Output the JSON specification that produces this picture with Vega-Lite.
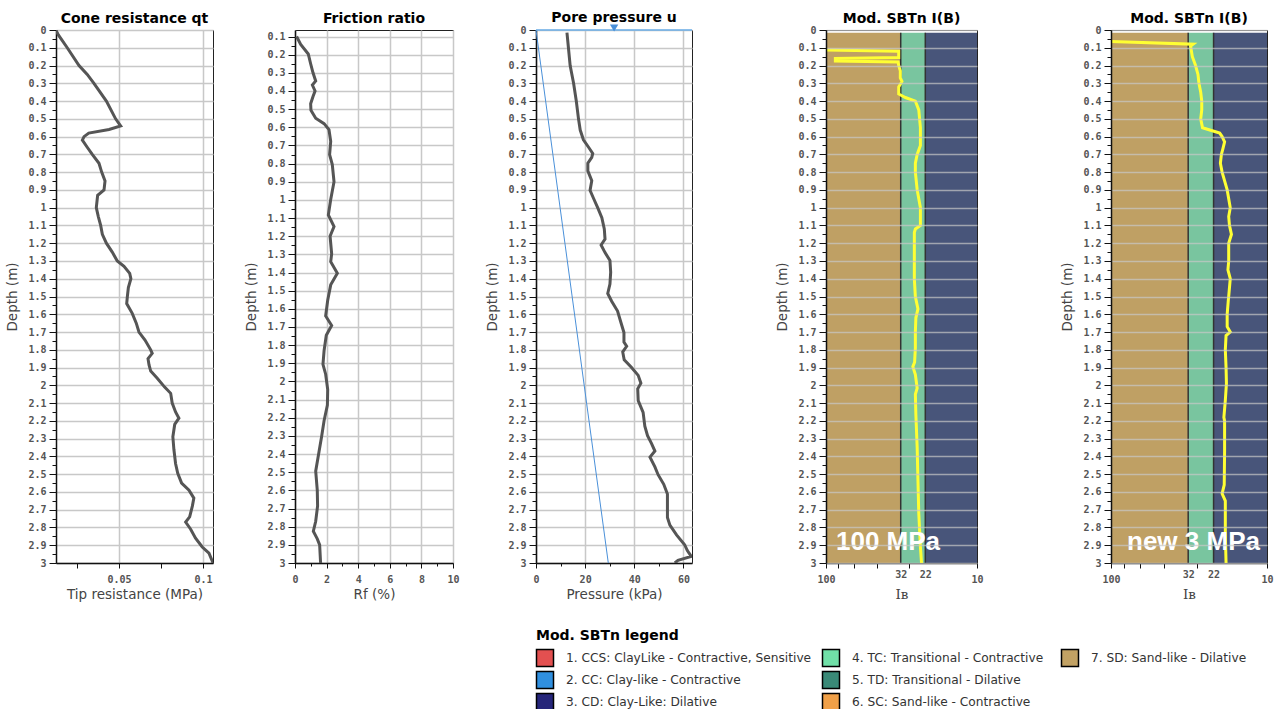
{
  "$schema": "https://vega.github.io/schema/vega-lite/v6.json",
  "background": "white",
  "padding": {"left": 5, "top": 10, "right": 5, "bottom": 5},
  "datasets": {
    "qt": [
      {"depth": 0, "qt": 0.0124}, {"depth": 0.028, "qt": 0.0139}, {"depth": 0.1, "qt": 0.0192}, {"depth": 0.2, "qt": 0.0262},
      {"depth": 0.25, "qt": 0.0311}, {"depth": 0.3, "qt": 0.0351}, {"depth": 0.4, "qt": 0.0425}, {"depth": 0.5, "qt": 0.048},
      {"depth": 0.54, "qt": 0.051}, {"depth": 0.56, "qt": 0.0441}, {"depth": 0.58, "qt": 0.032}, {"depth": 0.6, "qt": 0.0292},
      {"depth": 0.62, "qt": 0.0282}, {"depth": 0.66, "qt": 0.0311}, {"depth": 0.7, "qt": 0.0341}, {"depth": 0.75, "qt": 0.0381},
      {"depth": 0.8, "qt": 0.0397}, {"depth": 0.85, "qt": 0.0417}, {"depth": 0.9, "qt": 0.0411}, {"depth": 0.93, "qt": 0.0373},
      {"depth": 1.0, "qt": 0.0365}, {"depth": 1.05, "qt": 0.0377}, {"depth": 1.1, "qt": 0.0391}, {"depth": 1.15, "qt": 0.0401},
      {"depth": 1.2, "qt": 0.0425}, {"depth": 1.25, "qt": 0.046}, {"depth": 1.3, "qt": 0.049}, {"depth": 1.33, "qt": 0.053},
      {"depth": 1.37, "qt": 0.0564}, {"depth": 1.4, "qt": 0.0571}, {"depth": 1.45, "qt": 0.0556}, {"depth": 1.5, "qt": 0.055},
      {"depth": 1.54, "qt": 0.0546}, {"depth": 1.595, "qt": 0.0579}, {"depth": 1.65, "qt": 0.0603}, {"depth": 1.7, "qt": 0.0619},
      {"depth": 1.745, "qt": 0.0655}, {"depth": 1.8, "qt": 0.0689}, {"depth": 1.82, "qt": 0.0698}, {"depth": 1.85, "qt": 0.0673},
      {"depth": 1.885, "qt": 0.0679}, {"depth": 1.92, "qt": 0.0689}, {"depth": 1.96, "qt": 0.0728}, {"depth": 2.01, "qt": 0.0772},
      {"depth": 2.045, "qt": 0.0808}, {"depth": 2.1, "qt": 0.0817}, {"depth": 2.15, "qt": 0.0837}, {"depth": 2.185, "qt": 0.0857},
      {"depth": 2.22, "qt": 0.0832}, {"depth": 2.29, "qt": 0.0821}, {"depth": 2.36, "qt": 0.0827}, {"depth": 2.44, "qt": 0.0837},
      {"depth": 2.495, "qt": 0.085}, {"depth": 2.55, "qt": 0.0873}, {"depth": 2.59, "qt": 0.0917}, {"depth": 2.635, "qt": 0.0946},
      {"depth": 2.68, "qt": 0.0937}, {"depth": 2.74, "qt": 0.0921}, {"depth": 2.77, "qt": 0.0897}, {"depth": 2.81, "qt": 0.0927},
      {"depth": 2.86, "qt": 0.0956}, {"depth": 2.91, "qt": 0.0996}, {"depth": 2.945, "qt": 0.1036}, {"depth": 2.99, "qt": 0.1056},
      {"depth": 3.0, "qt": 0.106}
    ],
    "rf": [
      {"depth": 0.1, "rf": 0.1}, {"depth": 0.143, "rf": 0.36}, {"depth": 0.196, "rf": 0.84}, {"depth": 0.25, "rf": 0.99},
      {"depth": 0.3, "rf": 1.14}, {"depth": 0.345, "rf": 1.31}, {"depth": 0.367, "rf": 1.1}, {"depth": 0.4, "rf": 1.27},
      {"depth": 0.43, "rf": 1.14}, {"depth": 0.47, "rf": 0.99}, {"depth": 0.506, "rf": 1.01}, {"depth": 0.55, "rf": 1.31},
      {"depth": 0.58, "rf": 1.84}, {"depth": 0.613, "rf": 2.15}, {"depth": 0.677, "rf": 2.26}, {"depth": 0.75, "rf": 2.19},
      {"depth": 0.805, "rf": 2.36}, {"depth": 0.9, "rf": 2.47}, {"depth": 0.998, "rf": 2.26}, {"depth": 1.083, "rf": 2.11},
      {"depth": 1.147, "rf": 2.47}, {"depth": 1.2, "rf": 2.22}, {"depth": 1.297, "rf": 2.32}, {"depth": 1.34, "rf": 2.26},
      {"depth": 1.404, "rf": 2.68}, {"depth": 1.468, "rf": 2.26}, {"depth": 1.553, "rf": 2.07}, {"depth": 1.639, "rf": 1.94},
      {"depth": 1.692, "rf": 2.32}, {"depth": 1.745, "rf": 1.98}, {"depth": 1.831, "rf": 1.84}, {"depth": 1.906, "rf": 1.77},
      {"depth": 1.96, "rf": 1.94}, {"depth": 2.045, "rf": 2.07}, {"depth": 2.13, "rf": 2.05}, {"depth": 2.216, "rf": 1.84},
      {"depth": 2.3, "rf": 1.69}, {"depth": 2.387, "rf": 1.52}, {"depth": 2.494, "rf": 1.31}, {"depth": 2.6, "rf": 1.41},
      {"depth": 2.686, "rf": 1.43}, {"depth": 2.77, "rf": 1.31}, {"depth": 2.825, "rf": 1.16}, {"depth": 2.867, "rf": 1.41},
      {"depth": 2.9, "rf": 1.56}, {"depth": 3.0, "rf": 1.62}
    ],
    "u": [
      {"depth": 0.015, "p": 12.6}, {"depth": 0.1, "p": 13.2}, {"depth": 0.2, "p": 13.9}, {"depth": 0.3, "p": 15.3},
      {"depth": 0.4, "p": 16.4}, {"depth": 0.5, "p": 17.3}, {"depth": 0.563, "p": 18.0}, {"depth": 0.618, "p": 19.3},
      {"depth": 0.66, "p": 21.4}, {"depth": 0.695, "p": 23.1}, {"depth": 0.717, "p": 22.7}, {"depth": 0.75, "p": 21.1},
      {"depth": 0.793, "p": 21.1}, {"depth": 0.848, "p": 22.7}, {"depth": 0.903, "p": 22.0}, {"depth": 0.947, "p": 23.4},
      {"depth": 1.0, "p": 25.1}, {"depth": 1.056, "p": 26.8}, {"depth": 1.12, "p": 27.8}, {"depth": 1.177, "p": 28.1},
      {"depth": 1.21, "p": 26.5}, {"depth": 1.253, "p": 28.1}, {"depth": 1.297, "p": 30.1}, {"depth": 1.363, "p": 30.4},
      {"depth": 1.43, "p": 30.1}, {"depth": 1.483, "p": 29.2}, {"depth": 1.527, "p": 30.8}, {"depth": 1.582, "p": 33.2},
      {"depth": 1.648, "p": 34.6}, {"depth": 1.703, "p": 35.8}, {"depth": 1.757, "p": 35.8}, {"depth": 1.78, "p": 36.9},
      {"depth": 1.812, "p": 35.3}, {"depth": 1.856, "p": 35.9}, {"depth": 1.9, "p": 38.9}, {"depth": 1.944, "p": 41.6},
      {"depth": 1.988, "p": 42.7}, {"depth": 2.02, "p": 41.4}, {"depth": 2.086, "p": 41.6}, {"depth": 2.152, "p": 43.6},
      {"depth": 2.23, "p": 44.3}, {"depth": 2.283, "p": 45.4}, {"depth": 2.327, "p": 47.0}, {"depth": 2.37, "p": 48.4},
      {"depth": 2.404, "p": 46.4}, {"depth": 2.459, "p": 48.4}, {"depth": 2.503, "p": 49.7}, {"depth": 2.557, "p": 52.0},
      {"depth": 2.612, "p": 53.5}, {"depth": 2.7, "p": 53.5}, {"depth": 2.744, "p": 53.5}, {"depth": 2.787, "p": 54.5},
      {"depth": 2.842, "p": 57.2}, {"depth": 2.897, "p": 60.5}, {"depth": 2.93, "p": 61.6}, {"depth": 2.963, "p": 63.2},
      {"depth": 2.985, "p": 57.8}, {"depth": 3.0, "p": 56.5}
    ],
    "u0": [{"depth": 0, "p": 0}, {"depth": 3, "p": 29.43}],
    "wt": [{"depth": 0, "p": 0}],
    "gwt": [{"depth": 0, "p": 31.8}],
    "ib100": [
      {"depth": 0.113, "ib": 100}, {"depth": 0.12, "ib": 33.0}, {"depth": 0.155, "ib": 33.0}, {"depth": 0.16, "ib": 86.7},
      {"depth": 0.175, "ib": 86.7}, {"depth": 0.18, "ib": 33.3}, {"depth": 0.2, "ib": 33.0}, {"depth": 0.23, "ib": 32.2},
      {"depth": 0.27, "ib": 32.2}, {"depth": 0.29, "ib": 31.4}, {"depth": 0.32, "ib": 33.0}, {"depth": 0.36, "ib": 33.0},
      {"depth": 0.38, "ib": 29.8}, {"depth": 0.4, "ib": 25.6}, {"depth": 0.45, "ib": 24.3}, {"depth": 0.55, "ib": 23.7},
      {"depth": 0.65, "ib": 23.7}, {"depth": 0.7, "ib": 24.9}, {"depth": 0.75, "ib": 25.6}, {"depth": 0.8, "ib": 25.6},
      {"depth": 0.9, "ib": 24.9}, {"depth": 1.0, "ib": 23.7}, {"depth": 1.1, "ib": 23.7}, {"depth": 1.12, "ib": 25.6},
      {"depth": 1.14, "ib": 26.0}, {"depth": 1.3, "ib": 26.0}, {"depth": 1.4, "ib": 26.0}, {"depth": 1.5, "ib": 25.6},
      {"depth": 1.57, "ib": 24.6}, {"depth": 1.62, "ib": 25.4}, {"depth": 1.7, "ib": 25.6}, {"depth": 1.79, "ib": 25.6},
      {"depth": 1.87, "ib": 25.9}, {"depth": 1.895, "ib": 26.6}, {"depth": 1.94, "ib": 25.6}, {"depth": 2.016, "ib": 24.9},
      {"depth": 2.05, "ib": 25.6}, {"depth": 2.166, "ib": 25.4}, {"depth": 2.35, "ib": 24.9}, {"depth": 2.54, "ib": 24.6},
      {"depth": 2.72, "ib": 24.3}, {"depth": 2.91, "ib": 23.7}, {"depth": 3.0, "ib": 23.3}
    ],
    "ib3": [
      {"depth": 0.065, "ib": 100}, {"depth": 0.08, "ib": 29.8}, {"depth": 0.09, "ib": 30.9}, {"depth": 0.15, "ib": 30.1},
      {"depth": 0.2, "ib": 28.7}, {"depth": 0.25, "ib": 27.7}, {"depth": 0.3, "ib": 27.3}, {"depth": 0.35, "ib": 26.6},
      {"depth": 0.4, "ib": 26.2}, {"depth": 0.45, "ib": 26.2}, {"depth": 0.5, "ib": 26.6}, {"depth": 0.55, "ib": 25.9},
      {"depth": 0.57, "ib": 21.9}, {"depth": 0.58, "ib": 20.1}, {"depth": 0.6, "ib": 19.4}, {"depth": 0.63, "ib": 18.7},
      {"depth": 0.67, "ib": 19.2}, {"depth": 0.7, "ib": 19.6}, {"depth": 0.75, "ib": 19.9}, {"depth": 0.8, "ib": 19.4},
      {"depth": 0.9, "ib": 18.0}, {"depth": 1.0, "ib": 17.2}, {"depth": 1.05, "ib": 17.6}, {"depth": 1.1, "ib": 17.4},
      {"depth": 1.15, "ib": 16.9}, {"depth": 1.2, "ib": 17.6}, {"depth": 1.3, "ib": 17.6}, {"depth": 1.35, "ib": 17.8},
      {"depth": 1.4, "ib": 17.2}, {"depth": 1.5, "ib": 17.6}, {"depth": 1.52, "ib": 17.7}, {"depth": 1.6, "ib": 18.0},
      {"depth": 1.67, "ib": 18.0}, {"depth": 1.7, "ib": 17.2}, {"depth": 1.72, "ib": 18.3}, {"depth": 1.8, "ib": 18.5},
      {"depth": 1.9, "ib": 18.3}, {"depth": 1.99, "ib": 18.2}, {"depth": 2.085, "ib": 18.5}, {"depth": 2.18, "ib": 18.9},
      {"depth": 2.2, "ib": 18.7}, {"depth": 2.37, "ib": 18.7}, {"depth": 2.56, "ib": 18.8}, {"depth": 2.61, "ib": 19.4},
      {"depth": 2.65, "ib": 18.5}, {"depth": 2.84, "ib": 18.5}, {"depth": 3.0, "ib": 18.3}
    ],
    "zones": [
      {"zone": "7. SD", "ib": 100, "ib2": 32, "depth": 0.015, "depth2": 3},
      {"zone": "4. TC", "ib": 32, "ib2": 22, "depth": 0.015, "depth2": 3},
      {"zone": "3. CD", "ib": 22, "ib2": 10, "depth": 0.015, "depth2": 3}
    ],
    "legend": [
      {"code": 1, "label": "1. CCS: ClayLike - Contractive, Sensitive"},
      {"code": 2, "label": "2. CC: Clay-like - Contractive"},
      {"code": 3, "label": "3. CD: Clay-Like: Dilative"},
      {"code": 4, "label": "4. TC: Transitional - Contractive"},
      {"code": 5, "label": "5. TD: Transitional - Dilative"},
      {"code": 6, "label": "6. SC: Sand-like - Contractive"},
      {"code": 7, "label": "7. SD: Sand-like - Dilative"}
    ]
  },
  "hconcat": [
    {
      "hconcat": [
        {
          "width": 157, "height": 533,
          "title": {"text": "Cone resistance qt", "offset": -1},
          "data": {"name": "qt"},
          "mark": {"type": "line", "color": "#555555", "strokeWidth": 3, "clip": true},
          "encoding": {
            "x": {"field": "qt", "type": "quantitative",
              "scale": {"domain": [0.0125, 0.106], "nice": false, "zero": false},
              "axis": {"title": "Tip resistance (MPa)", "values": [0.025, 0.05, 0.075, 0.1], "labelOverlap": false, "format": ".2~f",
                "labelExpr": "datum.value == 0.05 || datum.value == 0.1 ? datum.label : ''",
                "gridOpacity": {"condition": {"test": "datum.value == 0.05 || datum.value == 0.1", "value": 1}, "value": 0}}},
            "y": {"field": "depth", "type": "quantitative",
              "scale": {"domain": [0, 3], "reverse": true, "nice": false, "zero": false},
              "axis": {"title": "Depth (m)", "format": ".2~f", "labelOverlap": false,
                "values": [0,0.05,0.1,0.15,0.2,0.25,0.3,0.35,0.4,0.45,0.5,0.55,0.6,0.65,0.7,0.75,0.8,0.85,0.9,0.95,1,1.05,1.1,1.15,1.2,1.25,1.3,1.35,1.4,1.45,1.5,1.55,1.6,1.65,1.7,1.75,1.8,1.85,1.9,1.95,2,2.05,2.1,2.15,2.2,2.25,2.3,2.35,2.4,2.45,2.5,2.55,2.6,2.65,2.7,2.75,2.8,2.85,2.9,2.95,3],
                "labelExpr": "abs(datum.value*10-round(datum.value*10)) < 0.001 ? datum.label : ''",
                "tickSize": {"condition": {"test": "abs(datum.value*10-round(datum.value*10)) < 0.001", "value": 7}, "value": 4},
                "gridOpacity": {"condition": {"test": "abs(datum.value*10-round(datum.value*10)) < 0.001", "value": 1}, "value": 0}}},
            "order": {"field": "depth"}
          }
        },
        {
          "width": 158, "height": 533,
          "title": {"text": "Friction ratio", "offset": 4},
          "data": {"name": "rf"},
          "mark": {"type": "line", "color": "#555555", "strokeWidth": 3, "clip": true},
          "encoding": {
            "x": {"field": "rf", "type": "quantitative",
              "scale": {"domain": [0, 10], "nice": false, "zero": false},
              "axis": {"title": "Rf (%)", "values": [0,1,2,3,4,5,6,7,8,9,10], "labelOverlap": false,
                "labelExpr": "datum.value % 2 == 0 ? datum.label : ''",
                "tickSize": {"condition": {"test": "datum.value % 2 == 0", "value": 5}, "value": 3},
                "gridOpacity": {"condition": {"test": "datum.value % 2 == 0", "value": 1}, "value": 0}}},
            "y": {"field": "depth", "type": "quantitative",
              "scale": {"domain": [0.064, 3], "reverse": true, "nice": false, "zero": false},
              "axis": {"title": "Depth (m)", "format": ".2~f", "labelOverlap": false,
                "values": [0.1,0.15,0.2,0.25,0.3,0.35,0.4,0.45,0.5,0.55,0.6,0.65,0.7,0.75,0.8,0.85,0.9,0.95,1,1.05,1.1,1.15,1.2,1.25,1.3,1.35,1.4,1.45,1.5,1.55,1.6,1.65,1.7,1.75,1.8,1.85,1.9,1.95,2,2.05,2.1,2.15,2.2,2.25,2.3,2.35,2.4,2.45,2.5,2.55,2.6,2.65,2.7,2.75,2.8,2.85,2.9,2.95,3],
                "labelExpr": "abs(datum.value*10-round(datum.value*10)) < 0.001 ? datum.label : ''",
                "tickSize": {"condition": {"test": "abs(datum.value*10-round(datum.value*10)) < 0.001", "value": 7}, "value": 4},
                "gridOpacity": {"condition": {"test": "abs(datum.value*10-round(datum.value*10)) < 0.001", "value": 1}, "value": 0}}},
            "order": {"field": "depth"}
          }
        }
      ],
      "spacing": 82,
      "bounds": "flush",
      "resolve": {"scale": {"x": "independent", "y": "independent"}}
    },
    {
      "vconcat": [
        {
          "hconcat": [
            {
              "width": 156, "height": 533,
              "title": {"text": "Pore pressure u", "offset": -1},
              "encoding": {
                "x": {"field": "p", "type": "quantitative",
                  "scale": {"domain": [0, 63.5], "nice": false, "zero": false},
                  "axis": {"title": "Pressure (kPa)", "values": [0,10,20,30,40,50,60], "labelOverlap": false,
                    "labelExpr": "datum.value % 20 == 0 ? datum.label : ''",
                    "tickSize": {"condition": {"test": "datum.value % 20 == 0", "value": 5}, "value": 3},
                    "gridOpacity": {"condition": {"test": "datum.value % 20 == 0", "value": 1}, "value": 0}}},
                "y": {"field": "depth", "type": "quantitative",
                  "scale": {"domain": [0, 3], "reverse": true, "nice": false, "zero": false},
                  "axis": {"title": "Depth (m)", "format": ".2~f", "labelOverlap": false,
                    "values": [0,0.05,0.1,0.15,0.2,0.25,0.3,0.35,0.4,0.45,0.5,0.55,0.6,0.65,0.7,0.75,0.8,0.85,0.9,0.95,1,1.05,1.1,1.15,1.2,1.25,1.3,1.35,1.4,1.45,1.5,1.55,1.6,1.65,1.7,1.75,1.8,1.85,1.9,1.95,2,2.05,2.1,2.15,2.2,2.25,2.3,2.35,2.4,2.45,2.5,2.55,2.6,2.65,2.7,2.75,2.8,2.85,2.9,2.95,3],
                    "labelExpr": "abs(datum.value*10-round(datum.value*10)) < 0.001 ? datum.label : ''",
                    "tickSize": {"condition": {"test": "abs(datum.value*10-round(datum.value*10)) < 0.001", "value": 7}, "value": 4},
                    "gridOpacity": {"condition": {"test": "abs(datum.value*10-round(datum.value*10)) < 0.001", "value": 1}, "value": 0}}}
              },
              "layer": [
                {
                  "data": {"name": "u0"},
                  "mark": {"type": "line", "color": "#4a90d9", "strokeWidth": 1},
                  "encoding": {"order": {"field": "depth"}}
                },
                {
                  "data": {"name": "u"},
                  "mark": {"type": "line", "color": "#555555", "strokeWidth": 3, "clip": true},
                  "encoding": {"order": {"field": "depth"}}
                },
                {
                  "data": {"name": "wt"},
                  "mark": {"type": "rule", "color": "#6aaee8", "strokeWidth": 1.5},
                  "encoding": {"x2": {"datum": 63.5}}
                },
                {
                  "data": {"name": "gwt"},
                  "mark": {"type": "point", "shape": "triangle-down", "filled": true, "color": "#4a90d9", "size": 70, "opacity": 1, "yOffset": -2}
                }
              ]
            },
            {
              "width": 151, "height": 533,
              "title": {"text": "Mod. SBTn I(B)", "offset": -1},
              "encoding": {
                "x": {"field": "ib", "type": "quantitative",
                  "scale": {"type": "log", "domain": [10, 100], "reverse": true, "nice": false},
                  "axis": {"title": "Iʙ", "titleFont": "DejaVu Serif", "grid": false, "format": "d", "labelOverlap": false,
                    "values": [100, 83, 65, 46, 32, 28, 22, 10],
                    "labelExpr": "indexof([100, 32, 22, 10], datum.value) >= 0 ? datum.label : ''",
                    "tickSize": {"condition": {"test": "datum.value == 32 || datum.value == 22", "value": 0}, "value": 5}}},
                "y": {"field": "depth", "type": "quantitative",
                  "scale": {"domain": [0, 3], "reverse": true, "nice": false, "zero": false},
                  "axis": {"title": "Depth (m)", "format": ".2~f", "zindex": 1, "gridColor": "#c8c8c8", "labelOverlap": false,
                    "values": [0,0.05,0.1,0.15,0.2,0.25,0.3,0.35,0.4,0.45,0.5,0.55,0.6,0.65,0.7,0.75,0.8,0.85,0.9,0.95,1,1.05,1.1,1.15,1.2,1.25,1.3,1.35,1.4,1.45,1.5,1.55,1.6,1.65,1.7,1.75,1.8,1.85,1.9,1.95,2,2.05,2.1,2.15,2.2,2.25,2.3,2.35,2.4,2.45,2.5,2.55,2.6,2.65,2.7,2.75,2.8,2.85,2.9,2.95,3],
                    "labelExpr": "abs(datum.value*10-round(datum.value*10)) < 0.001 ? datum.label : ''",
                    "tickSize": {"condition": {"test": "abs(datum.value*10-round(datum.value*10)) < 0.001", "value": 7}, "value": 4},
                    "gridOpacity": {"condition": {"test": "abs(datum.value*10-round(datum.value*10)) < 0.001", "value": 0.7}, "value": 0}}}
              },
              "layer": [
                {
                  "data": {"name": "zones"},
                  "mark": {"type": "rect"},
                  "encoding": {
                    "x2": {"field": "ib2"},
                    "y2": {"field": "depth2"},
                    "fill": {"field": "zone", "type": "nominal",
                      "scale": {"domain": ["7. SD", "4. TC", "3. CD"], "range": ["#bfa064", "#79c59f", "#48557a"]},
                      "legend": null}
                  }
                },
                {
                  "data": {"name": "zones"},
                  "transform": [{"filter": "datum.ib < 100"}],
                  "mark": {"type": "rule", "color": "#333333", "strokeWidth": 1.5},
                  "encoding": {"y2": {"field": "depth2"}}
                },
                {
                  "data": {"name": "ib100"},
                  "mark": {"type": "line", "color": "#ffff33", "strokeWidth": 3, "clip": true},
                  "encoding": {"order": {"field": "depth"}}
                },
                {
                  "data": {"values": [{"label": "100 MPa", "ib": 100, "depth": 2.88}]},
                  "mark": {"type": "text", "align": "left", "baseline": "middle", "dx": 10, "font": "Liberation Sans", "fontWeight": "bold", "fontSize": 26, "color": "white"},
                  "encoding": {"text": {"field": "label"}}
                }
              ]
            },
            {
              "width": 156, "height": 533,
              "title": {"text": "Mod. SBTn I(B)", "offset": -1},
              "encoding": {
                "x": {"field": "ib", "type": "quantitative",
                  "scale": {"type": "log", "domain": [10, 100], "reverse": true, "nice": false},
                  "axis": {"title": "Iʙ", "titleFont": "DejaVu Serif", "grid": false, "format": "d", "labelOverlap": false,
                    "values": [100, 83, 65, 46, 32, 28, 22, 10],
                    "labelExpr": "indexof([100, 32, 22, 10], datum.value) >= 0 ? datum.label : ''",
                    "tickSize": {"condition": {"test": "datum.value == 32 || datum.value == 22", "value": 0}, "value": 5}}},
                "y": {"field": "depth", "type": "quantitative",
                  "scale": {"domain": [0, 3], "reverse": true, "nice": false, "zero": false},
                  "axis": {"title": "Depth (m)", "format": ".2~f", "zindex": 1, "gridColor": "#c8c8c8", "labelOverlap": false,
                    "values": [0,0.05,0.1,0.15,0.2,0.25,0.3,0.35,0.4,0.45,0.5,0.55,0.6,0.65,0.7,0.75,0.8,0.85,0.9,0.95,1,1.05,1.1,1.15,1.2,1.25,1.3,1.35,1.4,1.45,1.5,1.55,1.6,1.65,1.7,1.75,1.8,1.85,1.9,1.95,2,2.05,2.1,2.15,2.2,2.25,2.3,2.35,2.4,2.45,2.5,2.55,2.6,2.65,2.7,2.75,2.8,2.85,2.9,2.95,3],
                    "labelExpr": "abs(datum.value*10-round(datum.value*10)) < 0.001 ? datum.label : ''",
                    "tickSize": {"condition": {"test": "abs(datum.value*10-round(datum.value*10)) < 0.001", "value": 7}, "value": 4},
                    "gridOpacity": {"condition": {"test": "abs(datum.value*10-round(datum.value*10)) < 0.001", "value": 0.7}, "value": 0}}}
              },
              "layer": [
                {
                  "data": {"name": "zones"},
                  "mark": {"type": "rect"},
                  "encoding": {
                    "x2": {"field": "ib2"},
                    "y2": {"field": "depth2"},
                    "fill": {"field": "zone", "type": "nominal",
                      "scale": {"domain": ["7. SD", "4. TC", "3. CD"], "range": ["#bfa064", "#79c59f", "#48557a"]},
                      "legend": null}
                  }
                },
                {
                  "data": {"name": "zones"},
                  "transform": [{"filter": "datum.ib < 100"}],
                  "mark": {"type": "rule", "color": "#333333", "strokeWidth": 1.5},
                  "encoding": {"y2": {"field": "depth2"}}
                },
                {
                  "data": {"name": "ib3"},
                  "mark": {"type": "line", "color": "#ffff33", "strokeWidth": 3, "clip": true},
                  "encoding": {"order": {"field": "depth"}}
                },
                {
                  "data": {"values": [{"label": "new 3 MPa", "ib": 100, "depth": 2.88}]},
                  "mark": {"type": "text", "align": "left", "baseline": "middle", "dx": 16, "font": "Liberation Sans", "fontWeight": "bold", "fontSize": 26, "color": "white"},
                  "encoding": {"text": {"field": "label"}}
                }
              ]
            }
          ],
          "spacing": 134,
          "bounds": "flush",
          "resolve": {"scale": {"x": "independent", "y": "independent"}}
        },
        {
          "hconcat": [
            {
              "width": 286, "height": 66,
              "view": {"stroke": null},
              "title": {"text": "Mod. SBTn legend", "anchor": "start", "offset": 4},
              "data": {"name": "legend"},
              "transform": [{"filter": "datum.code <= 3"}],
              "encoding": {
                "x": {"datum": 0, "type": "quantitative", "scale": {"domain": [0, 1]}, "axis": null},
                "y": {"field": "label", "type": "nominal", "sort": null, "axis": null}
              },
              "layer": [
                {"mark": {"type": "point", "shape": "square", "size": 289, "filled": true, "stroke": "black", "strokeWidth": 1.5, "opacity": 1, "xOffset": 9},
                 "encoding": {"color": {"field": "code", "type": "nominal", "scale": {"domain": [1,2,3,4,5,6,7], "range": ["#e35050", "#3090e0", "#25257a", "#70e0a8", "#3a8a78", "#f0a048", "#c2a264"]}, "legend": null}}},
                {"mark": {"type": "text", "align": "left", "baseline": "middle", "dx": 30, "font": "DejaVu Sans", "fontSize": 12.2, "color": "#333333"},
                 "encoding": {"text": {"field": "label"}}}
              ]
            },
            {
              "width": 239, "height": 66,
              "view": {"stroke": null},
              "data": {"name": "legend"},
              "transform": [{"filter": "datum.code >= 4 && datum.code <= 6"}],
              "encoding": {
                "x": {"datum": 0, "type": "quantitative", "scale": {"domain": [0, 1]}, "axis": null},
                "y": {"field": "label", "type": "nominal", "sort": null, "axis": null}
              },
              "layer": [
                {"mark": {"type": "point", "shape": "square", "size": 289, "filled": true, "stroke": "black", "strokeWidth": 1.5, "opacity": 1, "xOffset": 9},
                 "encoding": {"color": {"field": "code", "type": "nominal", "scale": {"domain": [1,2,3,4,5,6,7], "range": ["#e35050", "#3090e0", "#25257a", "#70e0a8", "#3a8a78", "#f0a048", "#c2a264"]}, "legend": null}}},
                {"mark": {"type": "text", "align": "left", "baseline": "middle", "dx": 30, "font": "DejaVu Sans", "fontSize": 12.2, "color": "#333333"},
                 "encoding": {"text": {"field": "label"}}}
              ]
            },
            {
              "width": 190, "height": 22,
              "view": {"stroke": null},
              "data": {"name": "legend"},
              "transform": [{"filter": "datum.code == 7"}],
              "encoding": {
                "x": {"datum": 0, "type": "quantitative", "scale": {"domain": [0, 1]}, "axis": null},
                "y": {"field": "label", "type": "nominal", "sort": null, "axis": null}
              },
              "layer": [
                {"mark": {"type": "point", "shape": "square", "size": 289, "filled": true, "stroke": "black", "strokeWidth": 1.5, "opacity": 1, "xOffset": 9},
                 "encoding": {"color": {"field": "code", "type": "nominal", "scale": {"domain": [1,2,3,4,5,6,7], "range": ["#e35050", "#3090e0", "#25257a", "#70e0a8", "#3a8a78", "#f0a048", "#c2a264"]}, "legend": null}}},
                {"mark": {"type": "text", "align": "left", "baseline": "middle", "dx": 30, "font": "DejaVu Sans", "fontSize": 12.2, "color": "#333333"},
                 "encoding": {"text": {"field": "label"}}}
              ]
            }
          ],
          "spacing": 0,
          "bounds": "flush",
          "resolve": {"scale": {"x": "independent", "y": "independent"}}
        }
      ],
      "spacing": 27,
      "resolve": {"scale": {"x": "independent", "y": "independent"}}
    }
  ],
  "spacing": 25,
  "resolve": {"scale": {"x": "independent", "y": "independent"}},
  "config": {
    "font": "DejaVu Sans",
    "view": {"stroke": "#222222", "strokeWidth": 1},
    "axis": {
      "labelFont": "DejaVu Sans Mono", "labelFontSize": 10, "labelFontWeight": "bold", "labelColor": "#555555",
      "titleFont": "DejaVu Sans", "titleFontSize": 13.5, "titleFontWeight": "normal", "titleColor": "#444444",
      "domainColor": "#111111", "domainWidth": 1.5, "tickColor": "#111111", "tickWidth": 1,
      "gridColor": "#c8c8c8", "gridWidth": 1.5, "labelOverlap": false, "labelFlush": false, "labelPadding": 3
    },
    "axisX": {"tickSize": 5, "titlePadding": 3, "labelPadding": 6},
    "axisY": {"titlePadding": 8},
    "title": {"font": "DejaVu Sans", "fontSize": 14, "fontWeight": "bold", "color": "#000000", "offset": 0, "frame": "group", "baseline": "alphabetic"}
  }
}
